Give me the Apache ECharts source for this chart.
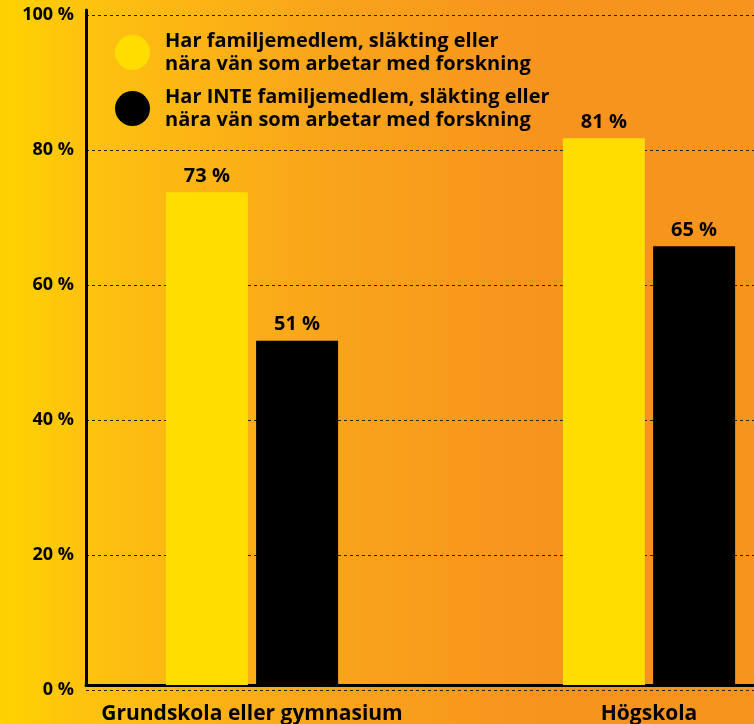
<!DOCTYPE html>
<html><head><meta charset="utf-8">
<script src="https://cdn.jsdelivr.net/npm/echarts@6/dist/echarts.min.js"></script>
<style>html,body{margin:0;padding:0;}#c{width:754px;height:724px;}</style>
</head><body><div id="c"></div>
<script>
const categories = ['Grundskola eller gymnasium', 'Högskola'];
const seriesNames = ['Har familjemedlem, släkting eller\nnära vän som arbetar med forskning',
                     'Har INTE familjemedlem, släkting eller\nnära vän som arbetar med forskning'];
const withResearcher = [73, 81];
const withoutResearcher = [51, 65];
const yTicks = [0, 20, 40, 60, 80, 100];

const FONT = 'Open Sans';
const chart = echarts.init(document.getElementById('c'), null, {renderer: 'canvas'});
chart.setOption({
  animation: false,
  backgroundColor: {
    type: 'linear', x: 0, y: 0, x2: 1, y2: 0,
    colorStops: [
      {offset: 0, color: '#FFD200'},
      {offset: 0.12, color: '#FEC20F'},
      {offset: 0.45, color: '#F9A31B'},
      {offset: 0.72, color: '#F7941D'},
      {offset: 1, color: '#F7941D'}
    ]
  },
  textStyle: {fontFamily: FONT},
  legend: {
    orient: 'vertical', left: 115, top: 31, itemGap: 13, padding: 0,
    icon: 'circle', itemWidth: 35, itemHeight: 35,
    selectedMode: false,
    data: seriesNames,
    formatter: function (name) {
      return name.split('\n').map(l => '{t|' + l + '}').join('\n');
    },
    textStyle: {
      rich: { t: { fontFamily: FONT, fontSize: 20, fontWeight: 'bold', lineHeight: 23, color: '#000', padding: [0, 0, 0, 10] } }
    }
  },
  grid: [
    {left: 86, top: 10, bottom: 39, right: 0, outerBoundsMode: 'none', containLabel: false},
    {left: 53.5, top: 10, bottom: 39, width: 794, outerBoundsMode: 'none', containLabel: false},
    {left: 86, top: 15, bottom: 34, right: 0, outerBoundsMode: 'none', containLabel: false}
  ],
  xAxis: [
    {gridIndex: 0, type: 'value', min: 0, max: 1,
     axisLine: {show: true, lineStyle: {color: '#000', width: 3}},
     axisTick: {show: false}, axisLabel: {show: false}, splitLine: {show: false}},
    {gridIndex: 1, type: 'category', data: categories,
     axisLine: {show: false}, axisTick: {show: false}, splitLine: {show: false},
     axisLabel: {interval: 0, margin: 19, color: '#000', fontFamily: FONT, fontSize: 21, fontWeight: 'bold'}},
    {gridIndex: 2, type: 'value', min: 0, max: 1, show: false}
  ],
  yAxis: [
    {gridIndex: 0, type: 'value', min: 0, max: 100,
     axisLine: {show: true, lineStyle: {color: '#000', width: 3}},
     axisTick: {show: false}, axisLabel: {show: false}, splitLine: {show: false}},
    {gridIndex: 1, type: 'value', min: 0, max: 100, show: false},
    {gridIndex: 2, type: 'value', min: 0, max: 100, interval: 20,
     axisLine: {show: false},
     axisTick: {show: false},
     axisLabel: {margin: 12, color: '#000', fontFamily: FONT, fontSize: 18, fontWeight: 'bold',
                 formatter: v => yTicks.includes(v) ? v + ' %' : ''},
     splitLine: {show: true, lineStyle: {color: '#222', width: 1, type: [3, 3]}}}
  ],
  series: [
    {name: seriesNames[0], type: 'bar', xAxisIndex: 1, yAxisIndex: 1,
     data: withResearcher, barWidth: 82, barGap: '10%',
     itemStyle: {color: '#FFDD00'},
     label: {show: true, position: 'top', distance: 6, formatter: '{c} %',
             color: '#000', fontFamily: FONT, fontSize: 20, fontWeight: 'bold'}},
    {name: seriesNames[1], type: 'bar', xAxisIndex: 1, yAxisIndex: 1,
     data: withoutResearcher, barWidth: 82, barGap: '10%',
     itemStyle: {color: '#000000'},
     label: {show: true, position: 'top', distance: 6, formatter: '{c} %',
             color: '#000', fontFamily: FONT, fontSize: 20, fontWeight: 'bold'}}
  ]
});
</script></body></html>
